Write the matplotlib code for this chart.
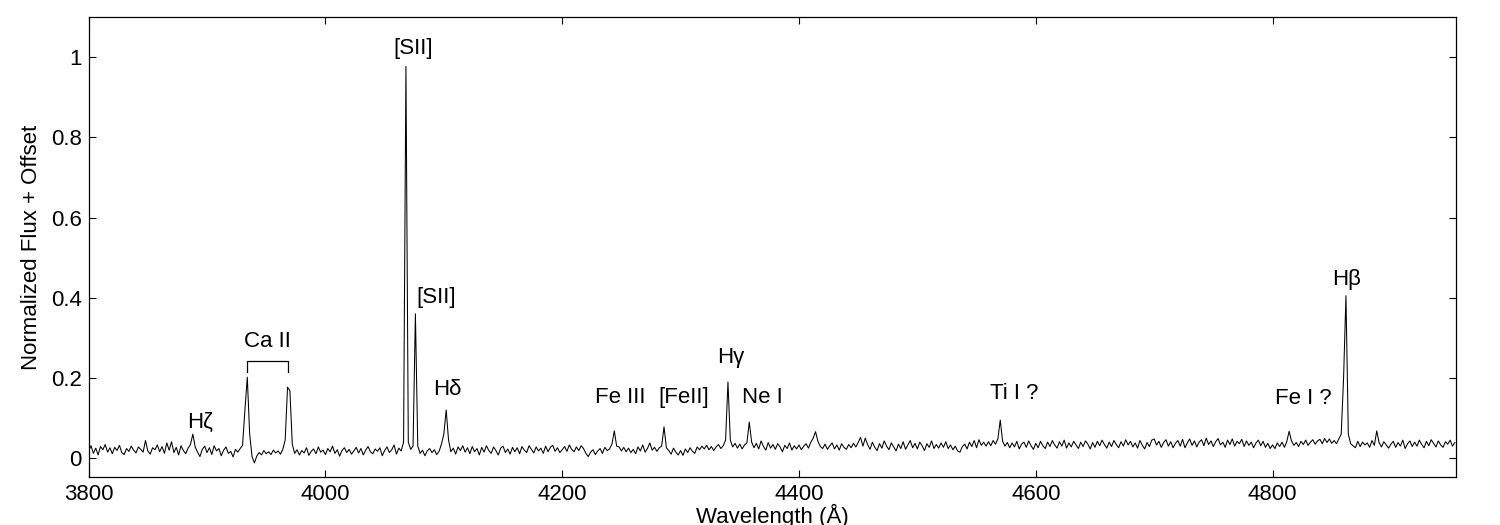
import matplotlib
matplotlib.use("Agg")
import matplotlib.pyplot as plt
import numpy as np

plt.rcParams['font.family'] = ['Liberation Sans', 'DejaVu Sans']

# spectrum, one value every 2 A starting at 3800 A
start_wl = 3800
step_wl = 2
flux = [
    0.018, 0.031, 0.012, 0.025, 0.008, 0.029, 0.021, 0.034, 0.015, 0.026,   # 3800
    0.011, 0.027, 0.019, 0.032, 0.014, 0.009, 0.024, 0.017, 0.030, 0.020,   # 3820
    0.013, 0.028, 0.022, 0.015, 0.044, 0.018, 0.010, 0.026, 0.021, 0.033,   # 3840
    0.016, 0.029, 0.012, 0.038, 0.020, 0.041, 0.014, 0.027, 0.008, 0.031,   # 3860
    0.019, 0.011, 0.025, 0.034, 0.060, 0.028, 0.015, 0.004, 0.022, 0.030,   # 3880
    0.014, 0.026, 0.009, 0.031, 0.018, 0.024, 0.006, 0.020, 0.028, 0.012,   # 3900
    0.017, 0.003, 0.022, 0.015, 0.024, 0.032, 0.120, 0.202, 0.060, 0.004,   # 3920
    -0.012, 0.005, 0.014, 0.008, 0.019, 0.011, 0.016, 0.009, 0.020, 0.013,  # 3940
    0.018, 0.010, 0.022, 0.045, 0.177, 0.168, 0.035, 0.012, 0.021, 0.008,   # 3960
    0.019, 0.013, 0.026, 0.007, 0.017, 0.023, 0.011, 0.028, 0.015, 0.020,   # 3980
    0.009, 0.024, 0.016, 0.030, 0.012, 0.021, 0.005, 0.019, 0.026, 0.014,   # 4000
    0.022, 0.010, 0.018, 0.027, 0.013, 0.024, 0.008, 0.020, 0.029, 0.016,   # 4020
    0.011, 0.023, 0.017, 0.026, 0.006, 0.019, 0.028, 0.014, 0.021, 0.033,   # 4040
    0.010, 0.025, 0.018, 0.040, 0.977, 0.040, 0.022, 0.030, 0.360, 0.030,   # 4060
    0.012, 0.020, 0.006, 0.018, 0.024, 0.014, 0.021, 0.009, 0.017, 0.035,   # 4080
    0.060, 0.120, 0.045, 0.016, 0.025, 0.010, 0.028, 0.019, 0.031, 0.015,   # 4100
    0.026, 0.011, 0.029, 0.016, 0.024, 0.008, 0.027, 0.015, 0.031, 0.019,   # 4120
    0.012, 0.028, 0.019, 0.008, 0.025, 0.030, 0.014, 0.023, 0.010, 0.027,   # 4140
    0.016, 0.026, 0.011, 0.029, 0.020, 0.014, 0.031, 0.022, 0.013, 0.028,   # 4160
    0.018, 0.025, 0.012, 0.030, 0.016, 0.027, 0.032, 0.017, 0.026, 0.014,   # 4180
    0.021, 0.029, 0.017, 0.033, 0.022, 0.016, 0.028, 0.019, 0.031, 0.024,   # 4200
    0.012, 0.004, 0.015, 0.021, 0.009, 0.018, 0.024, 0.012, 0.027, 0.019,   # 4220
    0.023, 0.035, 0.068, 0.030, 0.028, 0.018, 0.027, 0.016, 0.025, 0.014,   # 4240
    0.022, 0.011, 0.028, 0.018, 0.033, 0.015, 0.024, 0.038, 0.020, 0.027,   # 4260
    0.017, 0.026, 0.030, 0.078, 0.026, 0.019, 0.010, 0.025, 0.015, 0.008,   # 4280
    0.019, 0.007, 0.023, 0.014, 0.026, 0.017, 0.012, 0.028, 0.021, 0.030,   # 4300
    0.023, 0.032, 0.021, 0.029, 0.019, 0.028, 0.034, 0.024, 0.031, 0.045,   # 4320
    0.190, 0.045, 0.028, 0.037, 0.025, 0.035, 0.023, 0.033, 0.038, 0.090,   # 4340
    0.040, 0.026, 0.037, 0.023, 0.043, 0.029, 0.020, 0.039, 0.025, 0.034,   # 4360
    0.022, 0.036, 0.028, 0.016, 0.032, 0.024, 0.038, 0.020, 0.031, 0.023,   # 4380
    0.033, 0.021, 0.030, 0.036, 0.025, 0.040, 0.050, 0.066, 0.042, 0.029,   # 4400
    0.024, 0.035, 0.022, 0.031, 0.038, 0.023, 0.033, 0.020, 0.036, 0.027,   # 4420
    0.022, 0.034, 0.026, 0.037, 0.028, 0.039, 0.052, 0.030, 0.050, 0.034,   # 4440
    0.022, 0.040, 0.027, 0.019, 0.036, 0.025, 0.043, 0.030, 0.021, 0.038,   # 4460
    0.028, 0.018, 0.035, 0.024, 0.041, 0.022, 0.033, 0.044, 0.026, 0.037,   # 4480
    0.023, 0.040, 0.031, 0.019, 0.036, 0.027, 0.043, 0.024, 0.034, 0.025,   # 4500
    0.038, 0.027, 0.041, 0.024, 0.033, 0.021, 0.030, 0.018, 0.015, 0.029,   # 4520
    0.035, 0.023, 0.040, 0.029, 0.044, 0.026, 0.046, 0.032, 0.040, 0.030,   # 4540
    0.041, 0.031, 0.044, 0.035, 0.048, 0.095, 0.042, 0.030, 0.039, 0.026,   # 4560
    0.038, 0.028, 0.042, 0.023, 0.035, 0.040, 0.027, 0.043, 0.031, 0.022,   # 4580
    0.037, 0.026, 0.042, 0.031, 0.024, 0.040, 0.029, 0.044, 0.033, 0.025,   # 4600
    0.041, 0.030, 0.045, 0.025, 0.038, 0.028, 0.042, 0.033, 0.024, 0.040,   # 4620
    0.029, 0.043, 0.035, 0.023, 0.039, 0.027, 0.042, 0.031, 0.045, 0.034,   # 4640
    0.025, 0.040, 0.029, 0.044, 0.034, 0.026, 0.041, 0.030, 0.046, 0.033,   # 4660
    0.042, 0.028, 0.038, 0.025, 0.044, 0.032, 0.023, 0.039, 0.029, 0.045,   # 4680
    0.048, 0.033, 0.042, 0.027, 0.039, 0.046, 0.030, 0.041, 0.026, 0.037,   # 4700
    0.044, 0.030, 0.047, 0.026, 0.038, 0.048, 0.032, 0.043, 0.028, 0.040,   # 4720
    0.046, 0.031, 0.050, 0.034, 0.043, 0.029, 0.041, 0.049, 0.033, 0.040,   # 4740
    0.027, 0.045, 0.034, 0.048, 0.030, 0.042, 0.036, 0.047, 0.029, 0.043,   # 4760
    0.032, 0.040, 0.026, 0.038, 0.045, 0.031, 0.042, 0.027, 0.037, 0.024,   # 4780
    0.033, 0.024, 0.038, 0.029, 0.040, 0.027, 0.041, 0.067, 0.043, 0.032,   # 4800
    0.039, 0.029, 0.042, 0.034, 0.045, 0.032, 0.040, 0.046, 0.035, 0.043,   # 4820
    0.047, 0.036, 0.049, 0.039, 0.048, 0.037, 0.044, 0.036, 0.048, 0.060,   # 4840
    0.200, 0.405, 0.060, 0.036, 0.031, 0.026, 0.042, 0.029, 0.040, 0.033,   # 4860
    0.038, 0.027, 0.044, 0.032, 0.068, 0.039, 0.028, 0.041, 0.033, 0.025,   # 4880
    0.035, 0.042, 0.027, 0.039, 0.030, 0.045, 0.024, 0.036, 0.043, 0.029,   # 4900
    0.040, 0.030, 0.045, 0.034, 0.026, 0.042, 0.031, 0.046, 0.037, 0.028,   # 4920
    0.043, 0.033, 0.027, 0.041, 0.035, 0.045, 0.030, 0.039,                 # 4940
]

# line labels: text, wavelength, height
line_names = ['H\u03b6', 'Ca II', '[SII]', '[SII]', 'H\u03b4', 'Fe III', '[FeII]',
              'H\u03b3', 'Ne I', 'Ti I ?', 'Fe I ?', 'H\u03b2']
line_wl = [3894, 3951, 4074, 4093.5, 4102.6, 4249, 4303, 4342.5, 4369, 4582, 4826, 4862.6]
line_y = [0.09, 0.29, 1.022, 0.401, 0.17, 0.152, 0.152, 0.252, 0.152, 0.16, 0.15, 0.446]

# Ca II doublet bracket
ca_wl = [3933.7, 3968.5]
ca_top = 0.242
ca_foot = 0.214

wl = start_wl + step_wl * np.arange(len(flux))

fig = plt.figure(figsize=(15, 5.25), dpi=100)
ax = fig.add_axes([0.0591, 0.0914, 0.9116, 0.8762])

ax.plot(wl, flux, color='black', lw=0.75)

for name, x, y in zip(line_names, line_wl, line_y):
    ax.text(x, y, name, ha='center', va='center', fontsize=16)

ax.plot([ca_wl[0], ca_wl[0], ca_wl[1], ca_wl[1]], [ca_foot, ca_top, ca_top, ca_foot],
        color='black', lw=0.9)

ax.set_xlim(3800, 4955)
ax.set_ylim(-0.047, 1.1)
ax.set_xticks([3800, 4000, 4200, 4400, 4600, 4800])
ax.set_yticks([0, 0.2, 0.4, 0.6, 0.8, 1])
ax.set_yticklabels(['0', '0.2', '0.4', '0.6', '0.8', '1'])
ax.tick_params(direction='in', top=True, right=True, length=5, width=0.8,
               labelsize=16, pad=5)
for s in ax.spines.values():
    s.set_linewidth(0.9)

ax.set_xlabel('Wavelength (\u00c5)', fontsize=16, labelpad=-1)
ax.set_ylabel('Normalized Flux + Offset', fontsize=16, labelpad=6)

fig.savefig('out.png', dpi=100)
